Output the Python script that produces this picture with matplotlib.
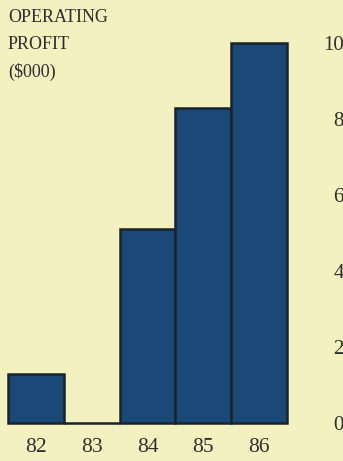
import matplotlib.pyplot as plt

# operating profit by year ($000)
years = ["82", "83", "84", "85", "86"]
profit = [1.3, 0.0, 5.1, 8.3, 10.0]
y_ticks = [0, 2, 4, 6, 8, 10]

bg = "#f4f1c0"
bar_color = "#1a4877"
edge_color = "#1a222c"
text_color = "#2e2e2e"

fig = plt.figure(figsize=(3.43, 4.61), dpi=100)
fig.patch.set_facecolor(bg)
ax = fig.add_axes([8 / 343, 38 / 461, 279 / 343, 399 / 461])
ax.set_facecolor(bg)

pos = list(range(len(years)))
ax.bar(pos, profit, width=1.0, color=bar_color, edgecolor=edge_color,
       linewidth=1.8, clip_on=False)

ax.set_xlim(-0.5, 4.5)
ax.set_ylim(0, 10.5)

for s in ax.spines.values():
    s.set_visible(False)

ax.set_xticks(pos)
ax.set_xticklabels(years, family="Liberation Serif", fontsize=15.5, color=text_color)
ax.tick_params(axis="x", length=0, pad=11)

ax.yaxis.tick_right()
ax.set_yticks(y_ticks)
ax.set_yticklabels([str(t) for t in y_ticks], family="Liberation Serif",
                   fontsize=15, color=text_color, ha="right")
ax.tick_params(axis="y", length=0, pad=41)

fig.text(8 / 343, 1 - 9 / 461, "OPERATING\nPROFIT\n($000)", ha="left", va="top",
         family="Liberation Serif", fontsize=13, color=text_color, linespacing=1.75)

plt.savefig("out.png", dpi=100, facecolor=bg)
